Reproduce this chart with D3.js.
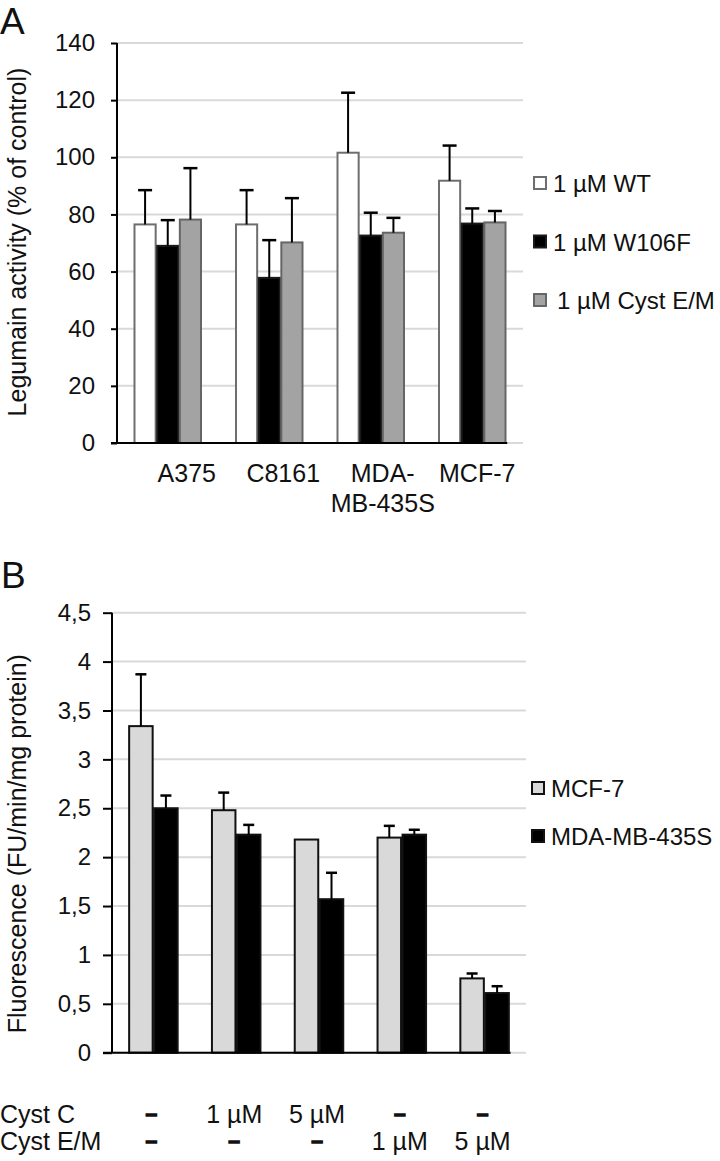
<!DOCTYPE html>
<html>
<head>
<meta charset="utf-8">
<script src="https://cdn.jsdelivr.net/npm/d3@7"></script>
<style>
  html, body { margin: 0; padding: 0; background: #fff; }
  svg text { font-family: "Liberation Sans", Arial, sans-serif; fill: #111; }
</style>
</head>
<body>
<svg id="chart" width="720" height="1161"></svg>
<script>
// ---------- Panel A data ----------
const categoriesA = ["A375", "C8161", "MDA-MB-435S", "MCF-7"];
const categoryLabelsA = [["A375"], ["C8161"], ["MDA-", "MB-435S"], ["MCF-7"]];
const seriesA = ["1 µM WT", "1 µM W106F", "1 µM Cyst E/M"];
const valuesWT = [76.5, 76.5, 101.6, 91.8];
const errorsWT = [12, 12, 21, 12.3];
const valuesW106F = [69, 57.8, 72.6, 76.8];
const errorsW106F = [9, 13.2, 8, 5.3];
const valuesCystEM = [78.2, 70.2, 73.6, 77.2];
const errorsCystEM = [18, 15.5, 5.2, 4];
const ticksA = [0, 20, 40, 60, 80, 100, 120, 140];
const yTitleA = "Legumain activity (% of control)";

// ---------- Panel B data ----------
const categoriesB = ["g1", "g2", "g3", "g4", "g5"];
const rowCystC = ["–", "1 µM", "5 µM", "–", "–"];
const rowCystEM = ["–", "–", "–", "1 µM", "5 µM"];
const seriesB = ["MCF-7", "MDA-MB-435S"];
const valuesMCF7 = [3.34, 2.48, 2.18, 2.2, 0.76];
const errorsMCF7 = [0.53, 0.18, 0, 0.12, 0.05];
const valuesMDA = [2.5, 2.23, 1.57, 2.23, 0.61];
const errorsMDA = [0.13, 0.1, 0.27, 0.05, 0.07];
const ticksB = [0, 0.5, 1, 1.5, 2, 2.5, 3, 3.5, 4, 4.5];
const yTitleB = "Fluorescence (FU/min/mg protein)";

const svg = d3.select("#chart");

function panel(cfg) {
  const g = svg.append("g");
  const x = d3.scaleBand().domain(cfg.categories).range([cfg.x0, cfg.x1])
    .paddingInner(cfg.pi).paddingOuter(cfg.po);
  const xs = d3.scaleBand().domain(cfg.series.map(s => s.name)).range([0, x.bandwidth()]);
  const y = d3.scaleLinear().domain(cfg.domain).range([cfg.yBottom, cfg.yTop]);

  // gridlines
  g.selectAll(".grid").data(cfg.ticks).join("line")
    .attr("x1", cfg.x0).attr("x2", cfg.x1)
    .attr("y1", d => y(d)).attr("y2", d => y(d))
    .attr("stroke", "#d9d9d9").attr("stroke-width", 2);

  // bars
  const rows = [];
  cfg.series.forEach(s => {
    cfg.categories.forEach((c, i) => rows.push({ c, s, v: s.values[i], e: s.errors[i] }));
  });
  g.selectAll(".bar").data(rows).join("rect")
    .attr("x", d => x(d.c) + xs(d.s.name) + 0.75)
    .attr("width", xs.bandwidth() - 1.5)
    .attr("y", d => y(d.v))
    .attr("height", d => y(0) - y(d.v))
    .attr("fill", d => d.s.fill)
    .attr("stroke", d => d.s.stroke)
    .attr("stroke-width", 2);

  // error bars (upper only)
  const eb = rows.filter(d => d.e > 0);
  g.selectAll(".stem").data(eb).join("line")
    .attr("x1", d => x(d.c) + xs(d.s.name) + xs.bandwidth() / 2)
    .attr("x2", d => x(d.c) + xs(d.s.name) + xs.bandwidth() / 2)
    .attr("y1", d => y(d.v)).attr("y2", d => y(d.v + d.e))
    .attr("stroke", "#000").attr("stroke-width", 2);
  g.selectAll(".cap").data(eb).join("line")
    .attr("x1", d => x(d.c) + xs(d.s.name) + xs.bandwidth() / 2 - cfg.cap / 2)
    .attr("x2", d => x(d.c) + xs(d.s.name) + xs.bandwidth() / 2 + cfg.cap / 2)
    .attr("y1", d => y(d.v + d.e)).attr("y2", d => y(d.v + d.e))
    .attr("stroke", "#000").attr("stroke-width", 2.5);

  // baseline (black up to last bar)
  const lastCat = cfg.categories[cfg.categories.length - 1];
  g.append("line")
    .attr("x1", cfg.x0 - cfg.tickSize).attr("x2", x(lastCat) + x.bandwidth() + 1)
    .attr("y1", y(0)).attr("y2", y(0))
    .attr("stroke", "#000").attr("stroke-width", 2);

  // y axis
  const axis = d3.axisLeft(y).tickValues(cfg.ticks).tickSize(cfg.tickSize)
    .tickPadding(cfg.tickPad).tickFormat(cfg.fmt);
  const ag = g.append("g").attr("transform", `translate(${cfg.x0},0)`).call(axis);
  ag.attr("font-size", null).attr("font-family", null);
  ag.select(".domain").attr("stroke", "#000").attr("stroke-width", 2)
    .attr("d", `M0,${cfg.yTop}V${cfg.yBottom}`);
  ag.selectAll(".tick line").attr("stroke", "#000").attr("stroke-width", 2);
  ag.selectAll(".tick text").style("font-size", cfg.tickFont + "px").attr("fill", "#111");

  // y title
  g.append("text")
    .attr("transform", `translate(${cfg.titleX},${(cfg.yTop + cfg.yBottom) / 2 + cfg.titleDy}) rotate(-90)`)
    .attr("text-anchor", "middle").attr("font-size", 25)
    .text(cfg.title);

  // legend
  cfg.series.forEach((s, i) => {
    const ly = cfg.legY + i * cfg.legStep;
    g.append("rect").attr("x", cfg.legX).attr("y", ly - 6).attr("width", 12).attr("height", 12)
      .attr("fill", s.fill).attr("stroke", s.stroke).attr("stroke-width", 2);
    g.append("text").attr("x", cfg.legX + 19 + (s.legDx || 0)).attr("y", ly + 9)
      .attr("font-size", cfg.legFont).text(s.name);
  });
  return { x, y, g };
}

// ---------- Panel A ----------
const A = panel({
  categories: categoriesA,
  series: [
    { name: seriesA[0], values: valuesWT, errors: errorsWT, fill: "#ffffff", stroke: "#6e6e6e" },
    { name: seriesA[1], values: valuesW106F, errors: errorsW106F, fill: "#000000", stroke: "#1a1a1a" },
    { name: seriesA[2], values: valuesCystEM, errors: errorsCystEM, fill: "#a3a3a3", stroke: "#666666", legDx: 4 }
  ],
  x0: 117, x1: 523, pi: 0.33, po: 0.165,
  domain: [0, 140], yBottom: 443, yTop: 43, ticks: ticksA,
  fmt: d => d, tickSize: 6, tickPad: 16, tickFont: 24, cap: 14,
  title: yTitleA, titleX: 26, titleDy: -1,
  legX: 534, legY: 183, legStep: 58.5, legFont: 24
});
const labelDxA = [19, 14, 12, 5];
categoryLabelsA.forEach((lines, i) => {
  lines.forEach((t, j) => {
    A.g.append("text")
      .attr("x", A.x(categoriesA[i]) + A.x.bandwidth() / 2 + labelDxA[i])
      .attr("y", 482 + j * 30)
      .attr("text-anchor", "middle").attr("font-size", 25).text(t);
  });
});
svg.append("text").attr("x", 0).attr("y", 34).attr("font-size", 37).text("A");

// ---------- Panel B ----------
const B = panel({
  categories: categoriesB,
  series: [
    { name: seriesB[0], values: valuesMCF7, errors: errorsMCF7, fill: "#d9d9d9", stroke: "#111111" },
    { name: seriesB[1], values: valuesMDA, errors: errorsMDA, fill: "#000000", stroke: "#111111" }
  ],
  x0: 112, x1: 526, pi: 0.396, po: 0.198,
  domain: [0, 4.5], yBottom: 1052.7, yTop: 612.7, ticks: ticksB,
  fmt: d => String(d).replace(".", ","), tickSize: 9, tickPad: 12, tickFont: 24, cap: 11,
  title: yTitleB, titleX: 26, titleDy: 11,
  legX: 532, legY: 788, legStep: 48, legFont: 24
});
svg.append("text").attr("x", 1).attr("y", 588).attr("font-size", 37).text("B");

// row labels under panel B
svg.append("text").attr("x", 0).attr("y", 1123).attr("font-size", 25).text("Cyst C");
svg.append("text").attr("x", 0).attr("y", 1150).attr("font-size", 25).text("Cyst E/M");
[rowCystC, rowCystEM].forEach((row, r) => {
  row.forEach((t, i) => {
    const cx = B.x(categoriesB[i]) + B.x.bandwidth() / 2 - 2;
    const isDash = t === "–";
    svg.append("text").attr("x", cx).attr("y", (r === 0 ? 1123 : 1150) + (isDash ? -3 : 0))
      .attr("text-anchor", "middle").attr("font-size", isDash ? 21 : 25)
      .attr("font-weight", isDash ? "bold" : "normal")
      .attr("stroke", isDash ? "#111" : null).attr("stroke-width", isDash ? 1.3 : null)
      .text(t);
  });
});
</script>
</body>
</html>
